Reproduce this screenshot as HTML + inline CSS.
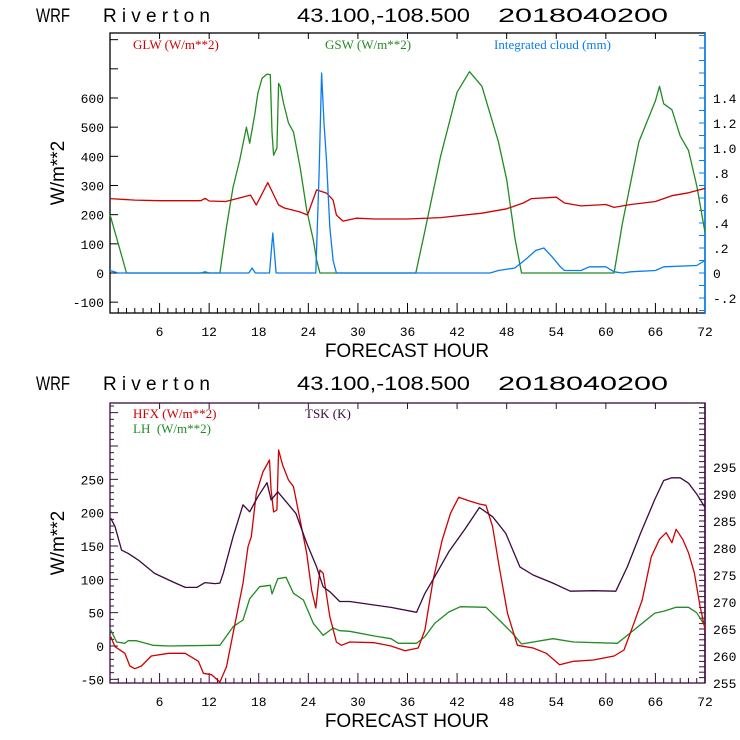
<!DOCTYPE html>
<html><head><meta charset="utf-8"><style>
html,body{margin:0;padding:0;background:#fff;width:740px;height:740px;overflow:hidden}
svg{display:block}
.t{font-family:"Liberation Sans",sans-serif;font-size:19px;fill:#000}
.tk{font-family:"Liberation Mono",monospace;font-size:13px}
.lg{font-family:"Liberation Serif",serif;font-size:13px}
</style></head><body>
<svg id="s" width="740" height="740" xmlns="http://www.w3.org/2000/svg"></svg>
<script>
// ---- data: top panel ----
const gswHours=[0,1,2,13.3,14.1,14.9,15.7,16.5,16.9,17.5,17.9,18.4,19.0,19.4,19.6,19.8,20.2,20.4,20.6,21.0,21.6,22.2,23.0,23.8,24.6,25.0,25.4,37,38,40,42,43.5,45,47,48,49,49.8,61,62,64,66,66.5,67,68,69,70,71,72];
const gswVals=[200,100,0,0,158,295,387,500,445,540,617,668,682,680,483,404,428,650,640,583,514,483,363,216,113,45,0,0,130,400,620,690,640,450,320,120,0,0,170,450,590,640,580,560,470,420,300,140];
const glwHours=[0,3,6,9,11,11.5,12,14,17,17.7,19.1,20.4,21.1,23,23.9,25,26.2,27,27.4,28.2,29.8,32,36,40,45,48,50,51,54,55,57,60,61,63,66,68,70,72];
const glwVals=[255,250,248,248,248,256,247,245,267,233,310,233,223,209,199,285,274,250,199,178,188,185,185,190,205,220,240,255,260,240,230,235,225,235,245,265,275,290];
const cldHours=[0,1,11,11.5,12,16.8,17.2,17.6,19.3,19.7,20.1,24.9,25.3,25.6,25.9,26.2,26.6,27,27.4,46,47,49,50.5,51.5,52.5,53.5,54.5,55,57,58,60,61,62,63,66,67,71,72];
const cldVals=[0.02,0,0,0.01,0,0,0.04,0,0,0.32,0,0,0.8,1.6,1.2,0.9,0.37,0.1,0,0,0.02,0.04,0.12,0.18,0.2,0.13,0.05,0.02,0.02,0.05,0.05,0.01,0,0.01,0.02,0.05,0.06,0.1];
// ---- data: bottom panel ----
const hfxHours=[0.1,0.6,1.8,2.4,3.0,3.8,5.0,7.1,9.1,10.7,11.3,12.3,13.3,14.1,14.9,16.1,16.7,17.1,17.7,18.5,19.3,19.5,19.8,20.2,20.4,20.9,21.6,22.2,23.0,23.8,24.4,24.9,25.4,25.8,26.6,27.4,28.0,29.0,32,34,35.7,37.3,38.1,39.1,40.2,41.2,42.2,43.4,44.7,45.5,46.3,47.1,48.1,49.3,51.2,52.8,54.4,56.1,58.5,61.0,62.2,63.4,64.4,65.5,66.5,67.3,68,68.5,69.3,70,70.7,71.4,72];
const hfxVals=[14,-1,-11,-30,-34,-30,-15,-11,-11,-23,-41,-43,-54,-31,19,94,149,164,229,261,279,234,201,204,294,271,249,239,189,139,84,57,114,109,44,6,1,6,5,0,-7,-3,24,99,159,199,223,218,213,211,179,119,49,1,-3,-11,-28,-23,-21,-15,-6,34,69,134,160,170,155,175,160,140,110,60,25];
const lhHours=[0.1,0.8,1.8,2.2,3.2,5.2,7.1,12.7,13.3,14.9,16.1,16.9,18.1,19.4,19.6,20.3,21.3,22.2,23.4,24.6,25.8,27.0,27.8,29.0,32,34,34.9,37.1,38.1,39.3,41.0,42.4,45.5,47.1,48.7,49.8,53.6,56.1,61.4,63.4,65.9,67,68.5,70,71,72];
const lhVals=[24,6,4,8,8,1,0,1,1,29,39,71,89,91,78,101,103,79,69,34,16,27,23,22,15,11,4,4,14,34,51,59,58,39,19,3,11,6,4,24,49,52,58,58,50,30];
const tskHours=[0.1,0.6,1.4,2.2,3.4,5.4,7.5,9.1,10.5,11.5,12.7,13.3,13.7,14.9,16.1,16.9,17.9,19.0,19.5,20.3,21.3,22.5,23.8,25.0,25.8,26.6,27.8,29.0,34,37.1,38.1,39.3,41.0,43.0,44.7,46.3,47.9,49.6,51.2,53.6,55.7,58.5,61.2,62.6,64.2,65.9,67,68,69,70,71,72];
const tskVals=[285.5,284,279.6,279,277.8,275.3,273.8,272.7,272.7,273.6,273.4,273.5,275.3,282.1,288,286.7,289.5,292.1,288.9,290.4,288.6,286.4,280.9,276.5,272.8,271.9,270.1,270.1,269,268.1,271.6,274.7,279.3,283.6,287.5,285.8,282.7,276.5,275,273.5,272,272.1,272,276.5,282.7,288.9,292.5,293,293,292,290,287.5];
const xTicks=[6,12,18,24,30,36,42,48,54,60,66,72];
const topLeftTicks=[-100,0,100,200,300,400,500,600];
const topRightTicks=[-0.2,0,0.2,0.4,0.6,0.8,1.0,1.2,1.4];
const botLeftTicks=[-50,0,50,100,150,200,250];
const botRightTicks=[255,260,265,270,275,280,285,290,295];

const NS="http://www.w3.org/2000/svg";
const svg=document.getElementById('s');
function mk(tag,attrs,parent){const e=document.createElementNS(NS,tag);for(const k in attrs)e.setAttribute(k,attrs[k]);(parent||svg).appendChild(e);return e;}
function txt(x,y,s,cls,fill,anchor,parent){const e=mk('text',{x:x,y:y,class:cls,fill:fill||'#000','text-anchor':anchor||'start'},parent);e.textContent=s;return e;}

const X0=110,X1=705;
const sx=h=>X0+(h/72)*(X1-X0);
const topL=v=>273-v*0.29167, topR=v=>273-v*125;
const botL=v=>646-v*0.6667, botR=v=>683-(v-255)*5.4;

function line(hours,vals,sy,color,name){
  let d='';for(let i=0;i<hours.length;i++){d+=(i?'L':'M')+sx(hours[i]).toFixed(1)+','+sy(vals[i]).toFixed(1);}
  const p=mk('path',{d:d,fill:'none',stroke:color,'stroke-width':1.3,'stroke-linejoin':'round'});
  
  
}

function stretch(e,w,adj){e.setAttribute('textLength',w);e.setAttribute('lengthAdjust',adj||'spacingAndGlyphs');}
function title(y){
  const g=mk('g',{});
  
  
  stretch(txt(36,y,'WRF','t','#000','start',g),34,'spacingAndGlyphs');
  stretch(txt(103,y,'Riverton','t','#000','start',g),107,'spacing');
  stretch(txt(297,y,'43.100,-108.500','t','#000','start',g),173);
  stretch(txt(498,y,'2018040200','t','#000','start',g),170);
}

function panel(Y0,Y1,axColor,rColor,leftTicks,lMinor,sl,rightTicks,rMinor,sr,rFmt,rSize){
  const g=mk('g',{});
  
  
  mk('rect',{x:X0,y:Y0,width:X1-X0,height:Y1-Y0,fill:'none',stroke:axColor,'stroke-width':1.3},g);
  mk('line',{x1:X1,y1:Y0,x2:X1,y2:Y1,stroke:rColor,'stroke-width':1.5},g);
  for(let h=1;h<72;h++){const x=sx(h);const big=h%6==0;
    mk('line',{x1:x,y1:Y1,x2:x,y2:Y1-(big?10:5),stroke:axColor},g);
    if(big) mk('line',{x1:x,y1:Y0,x2:x,y2:Y0+6,stroke:axColor},g);}
  xTicks.forEach(h=>{const t=txt(sx(h),Y1+23,String(h),'tk','#000','middle',g);t.setAttribute('font-size','16');});
  for(let v=lMinor[0];v<=lMinor[1];v+=lMinor[2]){const y=sl(v);if(y<Y0||y>Y1)continue;
    const big=leftTicks.includes(v)||v%lMinor[3]==0;mk('line',{x1:X0,y1:y,x2:X0+(big?8:4),y2:y,stroke:axColor},g);}
  leftTicks.forEach(v=>{txt(X0-6,sl(v)+5,String(v),'tk','#000','end',g).setAttribute('font-size','14');});
  for(let v=rMinor[0];v<=rMinor[1]+1e-9;v+=rMinor[2]){const y=sr(v);if(y<Y0||y>Y1)continue;
    mk('line',{x1:X1,y1:y,x2:X1-6,y2:y,stroke:rColor},g);}
  rightTicks.forEach(v=>{const t=txt(X1+8,sr(v)+5,rFmt(v),'tk','#000','start',g);t.setAttribute('font-size',rSize);});
  const f=txt(407,Y1+44,'FORECAST HOUR','t','#000','middle');
  f.setAttribute('font-size','17');
  const yt=txt(0,0,'W/m**2','t','#000','middle');
  yt.setAttribute('transform','translate(64,'+((Y0+Y1)/2)+') rotate(-90)');
  
}

title(22);
panel(33,313,'#000','#0080ff',topLeftTicks,[-100,800,100,100],topL,topRightTicks,[-0.3,1.9,0.1],topR,
  v=>v==0?'0':(v<0?'-'+Math.abs(v).toFixed(1).replace(/^0/,''):v<1?v.toFixed(1).replace(/^0/,''):v.toFixed(1)),'14');
line(gswHours,gswVals,topL,'#228b22','gsw-line');
line(glwHours,glwVals,topL,'#d00000','glw-line');
line(cldHours,cldVals,topR,'#0a7cf0','cloud-line');
let l;
l=txt(133,49,'GLW (W/m**2)','lg','#d00000');
l=txt(325,49,'GSW (W/m**2)','lg','#228b22');
l=txt(494,49,'Integrated cloud (mm)','lg','#0a7cf0');

title(390);
panel(403,683,'#3a0a40','#3a0a40',botLeftTicks,[-50,360,10,50],botL,botRightTicks,[255,306,1],botR,v=>String(v),'12');
line(lhHours,lhVals,botL,'#228b22','lh-line');
line(hfxHours,hfxVals,botL,'#d00000','hfx-line');
line(tskHours,tskVals,botR,'#3a0a40','tsk-line');
l=txt(133,418,'HFX (W/m**2)','lg','#d00000');
l=txt(133,433,'LH  (W/m**2)','lg','#228b22');
l.style.whiteSpace='pre';
l=txt(305,418,'TSK (K)','lg','#3a0a40');
</script>
</body></html>
